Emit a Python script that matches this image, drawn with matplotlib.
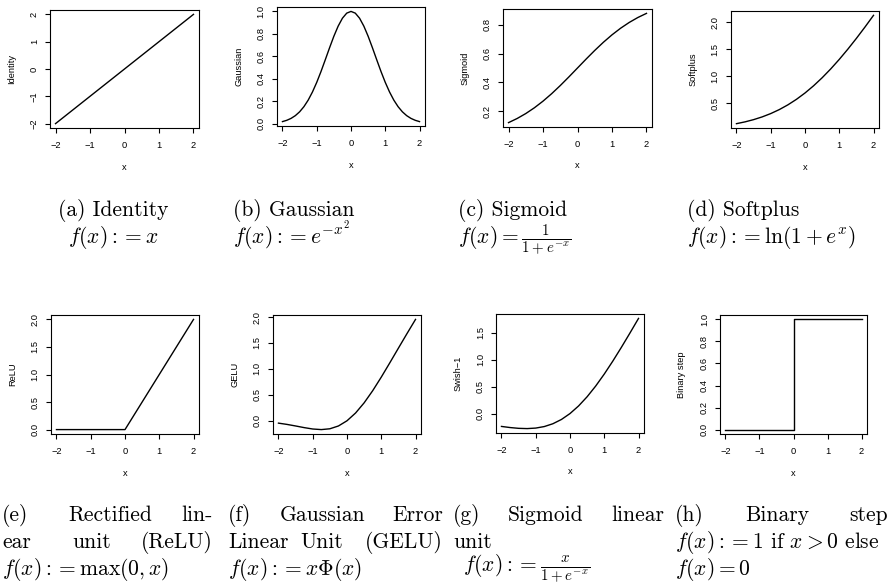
import matplotlib
matplotlib.use("Agg")
import matplotlib.pyplot as plt

plt.rcParams['mathtext.fontset'] = 'cm'

# ---------------- data ----------------
x_grid = [-2, -1.75, -1.5, -1.25, -1, -0.75, -0.5, -0.25, 0,
          0.25, 0.5, 0.75, 1, 1.25, 1.5, 1.75, 2]
identity_vals = [-2, -1.75, -1.5, -1.25, -1, -0.75, -0.5, -0.25, 0,
                 0.25, 0.5, 0.75, 1, 1.25, 1.5, 1.75, 2]

gauss_x = [-2, -1.875, -1.75, -1.625, -1.5, -1.375, -1.25, -1.125, -1,
           -0.875, -0.75, -0.625, -0.5, -0.375, -0.25, -0.125, 0,
           0.125, 0.25, 0.375, 0.5, 0.625, 0.75, 0.875, 1,
           1.125, 1.25, 1.375, 1.5, 1.625, 1.75, 1.875, 2]
gauss_vals = [0.0183, 0.0297, 0.0468, 0.0713, 0.1054, 0.1510, 0.2096, 0.2821, 0.3679,
              0.4650, 0.5698, 0.6766, 0.7788, 0.8688, 0.9394, 0.9845, 1.0,
              0.9845, 0.9394, 0.8688, 0.7788, 0.6766, 0.5698, 0.4650, 0.3679,
              0.2821, 0.2096, 0.1510, 0.1054, 0.0713, 0.0468, 0.0297, 0.0183]

sigmoid_vals = [0.1192, 0.1480, 0.1824, 0.2227, 0.2689, 0.3208, 0.3775, 0.4378, 0.5,
                0.5622, 0.6225, 0.6792, 0.7311, 0.7773, 0.8176, 0.8520, 0.8808]

softplus_vals = [0.1269, 0.1602, 0.2014, 0.2519, 0.3133, 0.3869, 0.4741, 0.5759, 0.6931,
                 0.8259, 0.9741, 1.1369, 1.3133, 1.5019, 1.7014, 1.9102, 2.1269]

relu_x = [-2, 0, 2]
relu_vals = [0, 0, 2]

gelu_vals = [-0.0455, -0.0702, -0.1002, -0.1320, -0.1587, -0.1700, -0.1543, -0.1003, 0.0,
             0.1497, 0.3457, 0.5800, 0.8413, 1.1180, 1.3998, 1.6798, 1.9545]

swish_vals = [-0.2384, -0.2590, -0.2736, -0.2784, -0.2689, -0.2406, -0.1887, -0.1095, 0.0,
              0.1406, 0.3112, 0.5094, 0.7311, 0.9716, 1.2264, 1.4910, 1.7616]

step_x = [-2, 0, 2]
step_vals = [0, 1, 1]

x_ticks = [-2, -1, 0, 1, 2]
x_tick_labels = ['\u22122', '\u22121', '0', '1', '2']

identity_ticks = [-2, -1, 0, 1, 2]
identity_labels = ['\u22122', '\u22121', '0', '1', '2']
gauss_ticks = [0.0, 0.2, 0.4, 0.6, 0.8, 1.0]
gauss_labels = ['0.0', '0.2', '0.4', '0.6', '0.8', '1.0']
sigmoid_ticks = [0.2, 0.4, 0.6, 0.8]
sigmoid_labels = ['0.2', '0.4', '0.6', '0.8']
softplus_ticks = [0.5, 1.0, 1.5, 2.0]
softplus_labels = ['0.5', '1.0', '1.5', '2.0']
relu_ticks = [0.0, 0.5, 1.0, 1.5, 2.0]
relu_labels = ['0.0', '0.5', '1.0', '1.5', '2.0']
gelu_ticks = [0.0, 0.5, 1.0, 1.5, 2.0]
gelu_labels = ['0.0', '0.5', '1.0', '1.5', '2.0']
swish_ticks = [0.0, 0.5, 1.0, 1.5]
swish_labels = ['0.0', '0.5', '1.0', '1.5']
step_ticks = [0.0, 0.2, 0.4, 0.6, 0.8, 1.0]
step_labels = ['0.0', '0.2', '0.4', '0.6', '0.8', '1.0']

y_names = ['Identity', 'Gaussian', 'Sigmoid', 'Softplus',
           'ReLU', 'GELU', 'Swish\u22121', 'Binary step']

# ---------------- layout ----------------
W, H = 893, 585
fig = plt.figure(figsize=(W / 100, H / 100), dpi=100)

# (left, top, right, bottom) in pixels
boxes = [(50, 10, 199, 128), (277, 7, 425, 126), (503, 9, 652, 127), (731, 11, 879, 128),
         (51, 315, 199, 434), (273, 315, 421, 434), (496, 314, 644, 433), (720, 315, 867, 434)]

panels = [
    (x_grid, identity_vals, identity_ticks, identity_labels, 'default'),
    (gauss_x, gauss_vals, gauss_ticks, gauss_labels, 'default'),
    (x_grid, sigmoid_vals, sigmoid_ticks, sigmoid_labels, 'default'),
    (x_grid, softplus_vals, softplus_ticks, softplus_labels, 'default'),
    (relu_x, relu_vals, relu_ticks, relu_labels, 'default'),
    (x_grid, gelu_vals, gelu_ticks, gelu_labels, 'default'),
    (x_grid, swish_vals, swish_ticks, swish_labels, 'default'),
    (step_x, step_vals, step_ticks, step_labels, 'steps-post'),
]

tick_font = dict(family='Liberation Sans', size=6.7)

for (l, t, r, b), (xs, ys, yt, yl, ds), name in zip(boxes, panels, y_names):
    ax = fig.add_axes([l / W, 1 - b / H, (r - l) / W, (b - t) / H])
    ax.plot(xs, ys, color='black', lw=1.0, drawstyle=ds)
    ax.margins(x=0.04, y=0.04)
    ax.set_xticks(x_ticks)
    ax.set_xticklabels(x_tick_labels, fontdict=tick_font)
    ax.set_yticks(yt)
    ax.set_yticklabels(yl, fontdict=tick_font, rotation=90, va='center')
    for sp in ax.spines.values():
        sp.set_linewidth(0.8)
        sp.set_color('black')
    ax.tick_params(direction='out', length=3.6, width=0.8, colors='black')
    ax.tick_params(axis='x', pad=5.5)
    ax.tick_params(axis='y', pad=4.5)
    ax.set_xlabel('x', fontdict=tick_font)
    ax.set_ylabel(name, fontdict=tick_font)
    wpx, hpx = r - l, b - t
    ax.xaxis.set_label_coords(0.5, -39 / hpx)
    ax.xaxis.label.set_va('center')
    ax.yaxis.set_label_coords(-38 / wpx, 0.5)
    ax.yaxis.label.set_va('center')

# ---------------- captions ----------------
FS = 15.5


def put(x, y, s, ha='left'):
    fig.text(x / W, 1 - y / H, s, fontsize=FS, family='cmr10', ha=ha, va='baseline')


# row 1
put(58, 216, '(a) Identity')
put(68, 243, r'$f(x) := x$')
put(233, 216, '(b) Gaussian')
put(233, 243, r'$f(x) := e^{-x^2}$')
put(458, 216, '(c) Sigmoid')
put(458, 244, r'$f(x) = \frac{1}{1+e^{-x}}$')
put(687, 216, '(d) Softplus')
put(687, 243, r'$f(x) := \ln(1+e^{x})$')

# row 2
put(2, 521, '(e)')
put(68, 521, 'Rectified')
put(213, 521, 'lin-', ha='right')
put(2, 548, 'ear')
put(72, 548, 'unit')
put(213, 548, '(ReLU)', ha='right')
put(2, 575, r'$f(x) := \max(0, x)$')

put(228, 521, '(f)')
put(280, 521, 'Gaussian')
put(443, 521, 'Error', ha='right')
put(228, 548, 'Linear')
put(300, 548, 'Unit')
put(443, 548, '(GELU)', ha='right')
put(228, 575, r'$f(x) := x\Phi(x)$')

put(453, 521, '(g)')
put(508, 521, 'Sigmoid')
put(664, 521, 'linear', ha='right')
put(453, 548, 'unit')
put(463, 572, r'$f(x) := \frac{x}{1+e^{-x}}$')

put(675, 521, '(h)')
put(745, 521, 'Binary')
put(888, 521, 'step', ha='right')
put(675, 548, r'$f(x) := 1$ if $x > 0$ else')
put(675, 575, r'$f(x) = 0$')

fig.savefig('out.png', dpi=100)
